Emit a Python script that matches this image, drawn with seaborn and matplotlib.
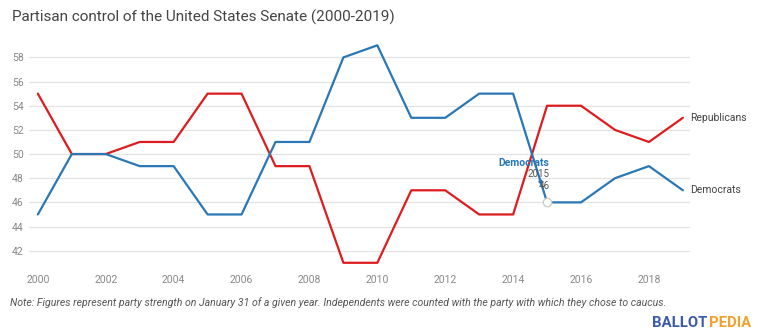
import matplotlib
matplotlib.use("Agg")
import matplotlib.pyplot as plt
import seaborn as sns
import pandas as pd

years = list(range(2000, 2020))
republicans = [55, 50, 50, 51, 51, 55, 55, 49, 49, 41, 41, 47, 47, 45, 45, 54, 54, 52, 51, 53]
democrats = [45, 50, 50, 49, 49, 45, 45, 51, 51, 58, 59, 53, 53, 55, 55, 46, 46, 48, 49, 47]
series_names = ["Republicans", "Democrats"]
y_ticks = [42, 44, 46, 48, 50, 52, 54, 56, 58]
x_ticks = [2000, 2002, 2004, 2006, 2008, 2010, 2012, 2014, 2016, 2018]
tooltip_year = 2015
tooltip_value = 46

sns.set_style("white")
plt.rcParams["font.family"] = ["Roboto", "DejaVu Sans"]

df = pd.DataFrame({
    "year": years * 2,
    "seats": republicans + democrats,
    "party": ["Republicans"] * len(years) + ["Democrats"] * len(years),
})

colors = {"Republicans": "#dd1c1f", "Democrats": "#2a77b5"}

fig = plt.figure(figsize=(7.68, 3.36), dpi=100)
ax = fig.add_axes([0.0378, 0.2107, 0.8602, 0.676])

sns.lineplot(data=df, x="year", y="seats", hue="party", palette=colors,
             linewidth=1.6, legend=False, ax=ax)

ax.set_xlim(1999.74, 2019.2)
ax.set_ylim(40.8, 59.6)
ax.set_yticks(y_ticks)
ax.set_xticks(x_ticks)
ax.set_xticklabels([str(t) for t in x_ticks])
ax.grid(axis="y", color="#e3e3e3", linewidth=0.9)
ax.set_axisbelow(True)
for s in ax.spines.values():
    s.set_visible(False)
ax.tick_params(axis="both", length=0, labelsize=7.5, labelcolor="#888888")
ax.tick_params(axis="y", pad=4)
ax.tick_params(axis="x", pad=7)
ax.set_xlabel("")
ax.set_ylabel("")

# end labels
ax.text(years[-1] + 0.22, republicans[-1], series_names[0], fontsize=7.5,
        color="#444444", va="center", ha="left", clip_on=False)
ax.text(years[-1] + 0.22, democrats[-1], series_names[1], fontsize=7.5,
        color="#444444", va="center", ha="left", clip_on=False)

# tooltip
ax.plot([tooltip_year], [tooltip_value], marker="o", markersize=6,
        markerfacecolor="white", markeredgecolor="#cccccc", linestyle="none", zorder=5)
ax.plot([tooltip_year - 0.22], [tooltip_value + 1.77], marker="o", markersize=2,
        color="#2a77b5", linestyle="none", zorder=6)
ax.text(tooltip_year - 0.68, tooltip_value + 3.25, "Democrats", fontsize=7.5,
        fontweight="bold", color="#2a77b5", ha="center", va="center", zorder=6)
ax.text(tooltip_year - 0.24, tooltip_value + 2.35, "2015", fontsize=7,
        color="#555555", ha="center", va="center", zorder=6)
ax.text(tooltip_year - 0.09, tooltip_value + 1.35, "46", fontsize=7,
        color="#555555", ha="center", va="center", zorder=6)

fig.text(12 / 768, 1 - 17 / 336, "Partisan control of the United States Senate (2000-2019)",
         fontsize=11, color="#444444", ha="left", va="center")
fig.text(10 / 768, 1 - 303 / 336,
         "Note: Figures represent party strength on January 31 of a given year. "
         "Independents were counted with the party with which they chose to caucus.",
         fontsize=7.6, style="italic", color="#555555", ha="left", va="center")

t1 = fig.text(652 / 768, 1 - 323 / 336, "BALLOT", fontsize=10.7, fontweight="bold",
              color="#3b5ba9", ha="left", va="center")
fig.canvas.draw()
bb = t1.get_window_extent()
fig.text(bb.x1 / 768 + 0.002, 1 - 323 / 336, "PEDIA", fontsize=10.7, fontweight="bold",
         color="#f0a22e", ha="left", va="center")

fig.savefig("out.png", dpi=100)
